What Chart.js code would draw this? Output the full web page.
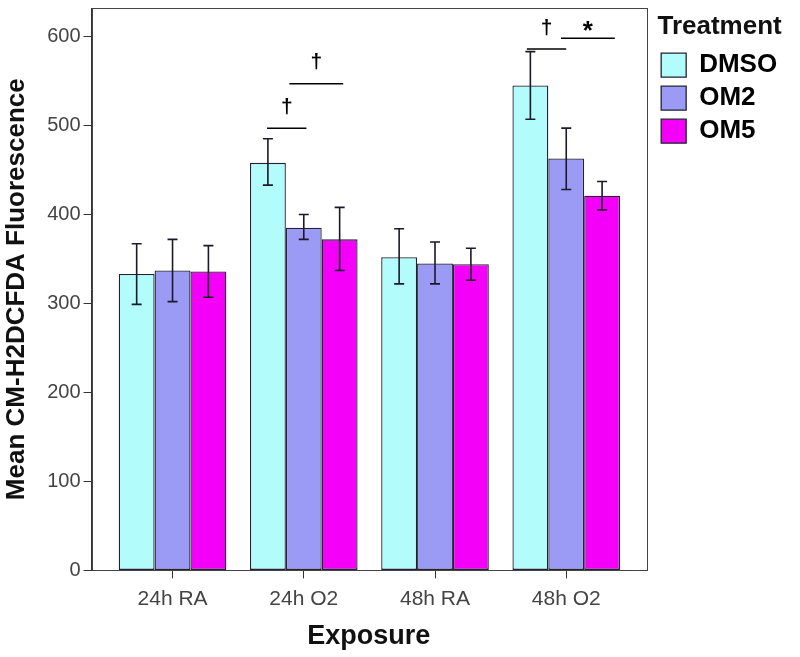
<!DOCTYPE html>
<html>
<head>
<meta charset="utf-8">
<script src="https://cdn.jsdelivr.net/npm/chart.js@4"></script>
<style>
  html, body { margin: 0; padding: 0; background: #fff; }
  #wrap { width: 800px; height: 657px; }
</style>
</head>
<body>
<div id="wrap"><canvas id="fluoChart" width="800" height="657"></canvas></div>
<script>
const exposures = ["24h RA", "24h O2", "48h RA", "48h O2"];
const treatments = ["DMSO", "OM2", "OM5"];
const yTicks = [0, 100, 200, 300, 400, 500, 600];

const dmsoMean = [333, 458, 352, 545];
const om2Mean = [337, 385, 345, 463];
const om5Mean = [336, 372, 344, 421];

// error bar ends (upper / lower)
const dmsoHigh = [367, 485, 384, 583];
const dmsoLow = [299, 433, 322, 507];
const om2High = [372, 400, 369, 497];
const om2Low = [302, 372, 322, 428];
const om5High = [365, 408, 362, 437];
const om5Low = [307, 337, 326, 405];

// significance brackets: exposure index, span (offset from group centre), level, mark
const sigExposure = [1, 1, 3, 3];
const sigFrom = [-0.28, -0.11, -0.30, -0.04];
const sigTo = [0.02, 0.30, 0.0, 0.37];
const sigLevel = [497, 547, 586, 598];
const sigMark = ["\u2020", "\u2020", "\u2020", "*"];

const means = [dmsoMean, om2Mean, om5Mean];
const highs = [dmsoHigh, om2High, om5High];
const lows = [dmsoLow, om2Low, om5Low];
const colors = ["#b3fcfc", "#9b9bf6", "#f400f8"];

Chart.defaults.font.family = "'Liberation Sans', Arial, sans-serif";

/* frame around the plot */
const framePlugin = {
    id: "frame",
    beforeDatasetsDraw(chart) {
        const a = chart.chartArea, ctx = chart.ctx;
        ctx.save();
        ctx.strokeStyle = "#444";
        ctx.lineWidth = 1;
        ctx.strokeRect(Math.round(a.left) + 0.5, Math.round(a.top) + 0.5,
            Math.round(a.right - a.left), Math.round(a.bottom - a.top));
        ctx.restore();
    }
};

/* error bars + significance marks */
const errorPlugin = {
    id: "errorBars",
    afterDatasetsDraw(chart) {
        const ctx = chart.ctx;
        const y = chart.scales.y, x = chart.scales.x;
        ctx.save();
        ctx.strokeStyle = "#1a1a2a";
        ctx.lineWidth = 1.6;
        chart.data.datasets.forEach((ds, i) => {
            chart.getDatasetMeta(i).data.forEach((bar, j) => {
                const top = y.getPixelForValue(highs[i][j]);
                const bot = y.getPixelForValue(lows[i][j]);
                ctx.beginPath();
                ctx.moveTo(bar.x, top); ctx.lineTo(bar.x, bot);
                ctx.moveTo(bar.x - 5, top); ctx.lineTo(bar.x + 5, top);
                ctx.moveTo(bar.x - 5, bot); ctx.lineTo(bar.x + 5, bot);
                ctx.stroke();
            });
        });

        ctx.strokeStyle = "#000";
        ctx.fillStyle = "#000";
        ctx.lineWidth = 1.5;
        ctx.textAlign = "center";
        ctx.textBaseline = "middle";
        sigExposure.forEach((c, k) => {
            const x0 = x.getPixelForValue(c + sigFrom[k]);
            const x1 = x.getPixelForValue(c + sigTo[k]);
            const ly = y.getPixelForValue(sigLevel[k]);
            ctx.beginPath();
            ctx.moveTo(x0, ly); ctx.lineTo(x1, ly);
            ctx.stroke();
            const star = sigMark[k] === "*";
            ctx.font = "bold " + (star ? 26 : 21) + "px 'Liberation Sans', Arial";
            ctx.fillText(sigMark[k], (x0 + x1) / 2, ly - (star ? 6 : 21));
        });
        ctx.restore();
    }
};

new Chart(document.getElementById("fluoChart").getContext("2d"), {
    type: "bar",
    data: {
        datasets: treatments.map((t, i) => ({
            label: t,
            data: means[i].map((v, j) => ({ x: j, y: v })),
            backgroundColor: colors[i],
            borderColor: "#222233",
            borderWidth: 1.3,
            borderSkipped: false,
            categoryPercentage: 0.82,
            barPercentage: 1.0
        }))
    },
    options: {
        responsive: false,
        animation: false,
        layout: { padding: { top: 8, right: 15, bottom: 0, left: 0 } },
        plugins: {
            tooltip: { enabled: false },
            legend: {
                position: "right",
                align: "start",
                title: {
                    display: true,
                    text: "Treatment",
                    color: "#111",
                    font: { size: 26, weight: "bold" },
                    padding: { top: 6, bottom: 0 }
                },
                labels: {
                    color: "#000",
                    font: { size: 26, weight: "bold" },
                    boxWidth: 25,
                    boxHeight: 24,
                    padding: 7
                }
            }
        },
        scales: {
            x: {
                type: "linear",
                offset: false,
                min: -0.617,
                max: 3.609,
                afterBuildTicks: s => { s.ticks = exposures.map((_, i) => ({ value: i })); },
                grid: { offset: false, drawOnChartArea: false, drawTicks: true, tickLength: 8, color: "#333" },
                border: { color: "#333" },
                ticks: {
                    color: "#444",
                    font: { size: 21 },
                    padding: 8,
                    callback: v => exposures[v]
                },
                title: {
                    display: true,
                    text: "Exposure",
                    color: "#111",
                    font: { size: 27, weight: "bold" },
                    padding: { top: 1, bottom: 4 }
                },
                afterFit: s => { s.paddingLeft = 0; s.paddingRight = 0; }
            },
            y: {
                min: 0,
                max: 632,
                afterBuildTicks: s => { s.ticks = yTicks.map(v => ({ value: v })); },
                grid: { drawOnChartArea: false, drawTicks: true, tickLength: 8, color: "#333" },
                border: { color: "#333" },
                ticks: { color: "#444", font: { size: 20 }, padding: 3 },
                title: {
                    display: true,
                    text: "Mean CM-H2DCFDA Fluorescence",
                    color: "#111",
                    font: { size: 26, weight: "bold" },
                    padding: { top: 1, bottom: 12 }
                },
                afterFit: s => { s.paddingTop = 0; s.paddingBottom = 0; }
            },
            gap: {
                position: "right",
                display: true,
                grid: { display: false },
                border: { display: false },
                ticks: { display: false },
                afterFit: s => { s.width = 8; }
            }
        }
    },
    plugins: [framePlugin, errorPlugin]
});
</script>
</body>
</html>
